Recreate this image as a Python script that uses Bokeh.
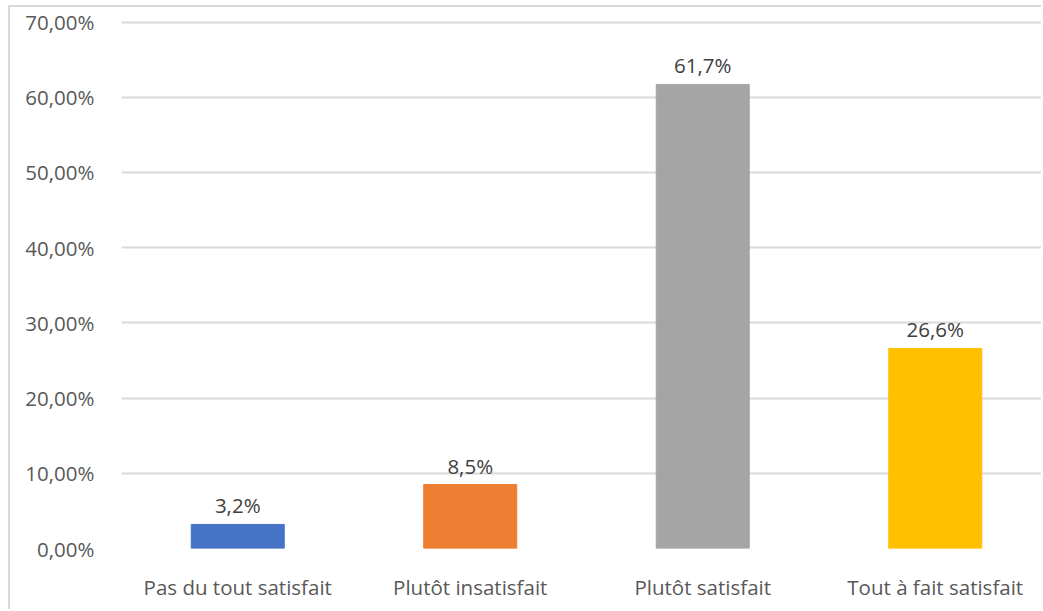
from bokeh.plotting import figure
from bokeh.models import ColumnDataSource, FixedTicker, LabelSet
from bokeh.core.properties import value
from bokeh.embed import file_html
from bokeh.resources import INLINE

# Survey results: share of respondents per satisfaction level (%)
categories = ["Pas du tout satisfait", "Plutôt insatisfait", "Plutôt satisfait", "Tout à fait satisfait"]
values = [3.2, 8.5, 61.7, 26.6]
colors = ["#4472C4", "#ED7D31", "#A5A5A5", "#FFC000"]
y_ticks = [0, 10, 20, 30, 40, 50, 60, 70]
y_tick_labels = ["0,00%", "10,00%", "20,00%", "30,00%", "40,00%", "50,00%", "60,00%", "70,00%"]

FONT = "Open Sans"
FONT_SIZE = "20.5px"

positions = list(range(len(categories)))
src = ColumnDataSource(dict(
    x=positions,
    top=values,
    color=colors,
    label=[f"{v:.1f}%".replace(".", ",") for v in values],
))

p = figure(
    width=1033, height=604,
    x_range=(-0.5, 3.4656), y_range=(0, 70.2),
    output_backend="svg", toolbar_location=None,
    min_border_left=111, min_border_top=13, min_border_bottom=63, min_border_right=0,
)
# light frame around the chart area
p.styles = {
    "margin-left": "8px",
    "margin-top": "5px",
    "border-left": "2px solid #d9d9d9",
    "border-top": "2px solid #d9d9d9",
}
p.outline_line_color = None
p.background_fill_color = "white"
p.border_fill_color = "white"

p.vbar(x="x", top="top", width=0.4, color="color", source=src)

labels = LabelSet(x="x", y="top", text="label", source=src, y_offset=5,
                  text_align="center", text_baseline="bottom",
                  text_font=value(FONT), text_font_size=value(FONT_SIZE),
                  text_color="#404040")
p.add_layout(labels)

# y axis
p.yaxis.ticker = FixedTicker(ticks=y_ticks)
p.yaxis.major_label_overrides = {t: s for t, s in zip(y_ticks, y_tick_labels)}
p.yaxis.axis_line_color = None
p.yaxis.major_tick_line_color = None
p.yaxis.minor_tick_line_color = None
p.yaxis.major_label_standoff = 21
p.yaxis.major_label_text_font = FONT
p.yaxis.major_label_text_font_size = FONT_SIZE
p.yaxis.major_label_text_color = "#595959"

# x axis with category names
p.xaxis.ticker = FixedTicker(ticks=positions)
p.xaxis.major_label_overrides = {i: c for i, c in zip(positions, categories)}
p.xaxis.axis_line_color = None
p.xaxis.major_tick_line_color = None
p.xaxis.minor_tick_line_color = None
p.xaxis.major_label_standoff = 18
p.xaxis.major_label_text_font = FONT
p.xaxis.major_label_text_font_size = FONT_SIZE
p.xaxis.major_label_text_color = "#595959"

p.xgrid.grid_line_color = None
p.ygrid.ticker = FixedTicker(ticks=y_ticks)
p.ygrid.grid_line_color = "#d9d9d9"
p.ygrid.grid_line_width = 2

open("out.html", "w").write(file_html(p, INLINE))
